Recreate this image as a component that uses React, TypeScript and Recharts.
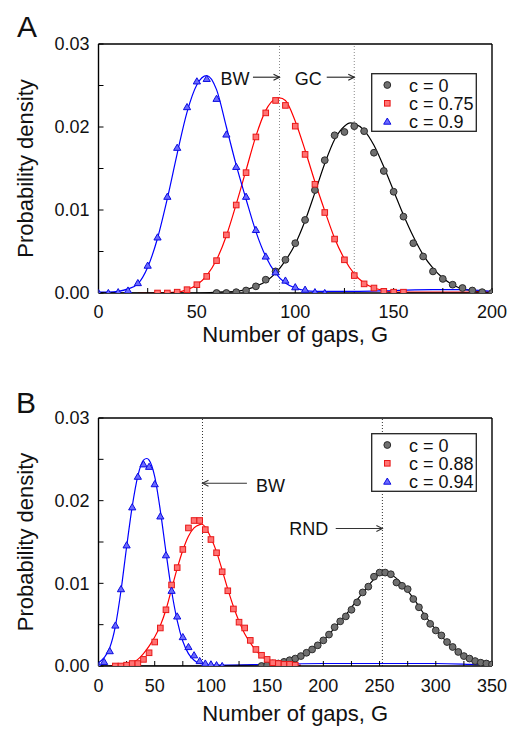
import React from 'react';
import { ComposedChart, Scatter, Line, XAxis, YAxis, ReferenceLine, Legend } from 'recharts';

const FONT = '"Liberation Sans", Arial, Helvetica, sans-serif';

// ---------- Panel A data ----------
const aXTicks = [0, 25, 50, 75, 100, 125, 150, 175, 200];
const aYTicks = [0, 0.005, 0.01, 0.015, 0.02, 0.025, 0.03];
const aLegend = ['c = 0', 'c = 0.75', 'c = 0.9'];

const aBlackPtsG = [60, 65, 70, 75, 80, 85, 90, 95, 100, 105, 110, 115, 120, 125, 130, 135, 140, 145, 150, 155, 160, 165, 170, 175, 180, 185, 190, 195, 200];
const aBlackPtsD = [0, 0, 0.0001, 0.0003, 0.0008, 0.0016, 0.0026, 0.004, 0.006, 0.0088, 0.0124, 0.016, 0.019, 0.0194, 0.0201, 0.0195, 0.0169, 0.0147, 0.0122, 0.0092, 0.006, 0.0044, 0.0026, 0.0017, 0.001, 0.0006, 0.0003, 0.0001, 0];
const aRedPtsG = [30, 35, 40, 45, 50, 55, 60, 65, 70, 75, 80, 85, 90, 95, 100, 105, 110, 115, 120, 125, 130, 135, 140, 145, 150, 155];
const aRedPtsD = [0, 0, 0.0001, 0.0004, 0.001, 0.002, 0.0039, 0.007, 0.0106, 0.0145, 0.0188, 0.0217, 0.0232, 0.0226, 0.0201, 0.0167, 0.0131, 0.0097, 0.0065, 0.004, 0.0021, 0.0011, 0.0006, 0.0002, 0.0001, 0.0001];
const aBluePtsG = [0, 5, 10, 15, 20, 25, 30, 35, 40, 45, 50, 55, 60, 65, 70, 75, 80, 85, 90, 95, 100, 105, 110, 115];
const aBluePtsD = [0, 0, 0.0001, 0.0003, 0.0012, 0.0033, 0.0067, 0.0116, 0.0175, 0.0224, 0.0255, 0.0258, 0.0234, 0.0191, 0.0152, 0.0116, 0.0076, 0.0044, 0.0025, 0.0015, 0.0007, 0.0004, 0.0001, 0];

const aBlackFitG = [0, 50, 60, 70, 75, 80, 85, 90, 95, 100, 105, 110, 115, 120, 125, 128, 130, 135, 140, 145, 150, 155, 160, 165, 170, 175, 180, 185, 190, 195, 200];
const aBlackFitD = [0, 0, 0.0001, 0.0002, 0.0004, 0.0008, 0.0014, 0.0024, 0.0039, 0.0059, 0.0087, 0.0121, 0.0156, 0.0185, 0.0201, 0.0205, 0.0204, 0.0196, 0.0178, 0.0152, 0.0123, 0.0094, 0.0068, 0.0046, 0.003, 0.0018, 0.001, 0.0005, 0.0003, 0.0001, 0.0001];
const aRedFitG = [20, 30, 40, 45, 50, 55, 60, 65, 70, 75, 80, 85, 90, 92, 95, 100, 105, 110, 115, 120, 125, 130, 135, 140, 145, 150, 160, 180, 200];
const aRedFitD = [0, 0, 0.0001, 0.0004, 0.001, 0.0021, 0.004, 0.0069, 0.0107, 0.0148, 0.0189, 0.022, 0.0234, 0.0235, 0.0232, 0.0207, 0.0172, 0.0134, 0.0099, 0.0066, 0.0041, 0.0023, 0.0012, 0.0006, 0.0003, 0.0001, 0.0001, 0.0001, 0.0001];
const aBlueFitG = [0, 5, 10, 15, 20, 25, 30, 35, 40, 45, 50, 55, 60, 65, 70, 75, 80, 85, 90, 95, 100, 105, 110, 130, 150, 170, 185, 200];
const aBlueFitD = [0.0001, 0.0001, 0.0002, 0.0005, 0.0011, 0.0031, 0.0066, 0.0114, 0.0168, 0.0218, 0.0251, 0.0262, 0.0245, 0.02, 0.0154, 0.0113, 0.0074, 0.0044, 0.0024, 0.0012, 0.0006, 0.0003, 0.0002, 0.0002, 0.0003, 0.0004, 0.0004, 0.0002];

// ---------- Panel B data ----------
const bXTicks = [0, 25, 50, 75, 100, 125, 150, 175, 200, 225, 250, 275, 300, 325, 350];
const bYTicks = [0, 0.005, 0.01, 0.015, 0.02, 0.025, 0.03];
const bLegend = ['c = 0', 'c = 0.88', 'c = 0.94'];

const bBlackPtsG = [145, 150, 155, 160, 165, 170, 175, 180, 185, 190, 195, 200, 205, 210, 215, 220, 225, 230, 235, 240, 245, 250, 255, 260, 265, 270, 275, 280, 285, 290, 295, 300, 305, 310, 315, 320, 325, 330, 335, 340, 345, 350];
const bBlackPtsD = [0, 0.0001, 0.0003, 0.0003, 0.0005, 0.0007, 0.0009, 0.0012, 0.0016, 0.002, 0.0025, 0.0031, 0.0038, 0.0047, 0.0054, 0.006, 0.0068, 0.0077, 0.0089, 0.0096, 0.0108, 0.0113, 0.0113, 0.0111, 0.0101, 0.0097, 0.0093, 0.0081, 0.0071, 0.006, 0.0051, 0.0043, 0.0037, 0.0029, 0.0023, 0.0017, 0.0012, 0.0009, 0.0006, 0.0004, 0.0003, 0.0002];
const bRedPtsG = [15, 20, 25, 30, 35, 40, 45, 50, 55, 60, 65, 70, 75, 80, 85, 90, 95, 100, 105, 110, 115, 120, 125, 130, 135, 140, 145, 150, 155, 160, 165, 170, 175];
const bRedPtsD = [0, 0, 0.0001, 0.0003, 0.0003, 0.0008, 0.0016, 0.0029, 0.0046, 0.0068, 0.0098, 0.0119, 0.0141, 0.0167, 0.0176, 0.0176, 0.0165, 0.0153, 0.0137, 0.0114, 0.0091, 0.0069, 0.0053, 0.0046, 0.0031, 0.002, 0.0013, 0.0008, 0.0004, 0.0003, 0.0002, 0.0002, 0.0001];
const bBluePtsG = [0, 5, 10, 15, 20, 25, 30, 35, 40, 45, 50, 55, 60, 65, 70, 75, 80, 85, 90, 95, 100, 105, 110];
const bBluePtsD = [0, 0.0005, 0.0018, 0.0049, 0.0093, 0.0146, 0.0192, 0.0229, 0.0244, 0.0241, 0.022, 0.0181, 0.0134, 0.0091, 0.006, 0.0035, 0.0023, 0.0013, 0.0006, 0.0003, 0.0002, 0.0001, 0];

const bBlackFitG = [0, 100, 130, 145, 160, 170, 180, 190, 200, 210, 220, 230, 240, 245, 250, 253, 255, 260, 265, 270, 280, 290, 300, 310, 320, 330, 340, 350];
const bBlackFitD = [0, 0, 0.0001, 0.0002, 0.0004, 0.0007, 0.0012, 0.002, 0.0031, 0.0046, 0.0062, 0.008, 0.0097, 0.0105, 0.0111, 0.01135, 0.0113, 0.0111, 0.0106, 0.0099, 0.0082, 0.0062, 0.0044, 0.0029, 0.0018, 0.001, 0.0005, 0.0002];
const bRedFitG = [10, 20, 25, 30, 35, 40, 45, 50, 55, 60, 65, 70, 75, 80, 85, 90, 92, 95, 100, 105, 110, 115, 120, 125, 130, 135, 140, 145, 150, 155, 160, 170, 180];
const bRedFitD = [0, 0.0001, 0.0002, 0.0004, 0.0008, 0.0015, 0.0024, 0.0035, 0.0049, 0.0068, 0.0093, 0.0118, 0.014, 0.0157, 0.0167, 0.0171, 0.01715, 0.0168, 0.0155, 0.0138, 0.0116, 0.0093, 0.0072, 0.0054, 0.0039, 0.0028, 0.0019, 0.0012, 0.0008, 0.0005, 0.0003, 0.0001, 0.0001];
const bBlueFitG = [0, 5, 10, 15, 20, 25, 30, 35, 40, 43, 45, 50, 55, 60, 65, 70, 75, 80, 85, 90, 95, 100, 120, 150, 200, 250, 300, 330, 350];
const bBlueFitD = [0.0004, 0.001, 0.0022, 0.0048, 0.0091, 0.0144, 0.0193, 0.023, 0.0249, 0.0251, 0.0249, 0.0229, 0.0188, 0.0138, 0.0091, 0.0055, 0.003, 0.0015, 0.0007, 0.0003, 0.0002, 0.0001, 0.0001, 0.0002, 0.0003, 0.0003, 0.0003, 0.0002, 0.0001];

const toPts = (g: number[], d: number[]) => g.map((G, i) => ({ G, d: d[i] }));

// ---------- marks ----------
const CircleMark = (p: any) => <circle cx={p.cx} cy={p.cy} r={3.4} fill="#707070" stroke="#2c2c2c" strokeWidth={1} />;
const SquareMark = (p: any) => <rect x={p.cx - 2.8} y={p.cy - 2.8} width={5.6} height={5.6} fill="#ff7373" stroke="#e81818" strokeWidth={1} />;
const TriMark = (p: any) => (
  <path d={`M${p.cx},${p.cy - 3.6}L${p.cx + 3.6},${p.cy + 2.6}L${p.cx - 3.6},${p.cy + 2.6}Z`} fill="#6a6aff" stroke="#0c0ce0" strokeWidth={1} />
);

const arrowShape = (text: string, textSide: 'left' | 'right', head: 'left' | 'right', gap: number, dy: number, color: string) => (p: any) => {
  const left = Math.min(p.x1, p.x2);
  const right = Math.max(p.x1, p.x2);
  const y = p.y1;
  const hx = head === 'right' ? right : left;
  const s = head === 'right' ? -1 : 1;
  return (
    <g>
      <line x1={left} y1={y} x2={right} y2={y} stroke={color} strokeWidth={1.1} />
      <path d={`M${hx + s * 6},${y - 3}L${hx},${y}L${hx + s * 6},${y + 3}`} fill="none" stroke={color} strokeWidth={1.1} />
      <text
        x={textSide === 'left' ? left - gap : right + gap}
        y={y + dy}
        textAnchor={textSide === 'left' ? 'end' : 'start'}
        fontSize={18}
        fontFamily={FONT}
        fill="#111"
      >
        {text}
      </text>
    </g>
  );
};

const LegendBox = ({ labels }: { labels: string[] }) => {
  const marks = [CircleMark, SquareMark, TriMark];
  return (
    <svg width={106} height={59} style={{ display: 'block' }}>
      <rect x={0.7} y={0.7} width={104.6} height={57.6} fill="#fff" stroke="#222" strokeWidth={1.3} />
      {labels.map((lab, i) => {
        const M = marks[i];
        const cy = 12 + i * 18.3;
        return (
          <g key={lab}>
            <M cx={16.3} cy={cy} />
            <text x={38} y={cy + 6.6} fontSize={18} fontFamily={FONT} fill="#111">
              {lab}
            </text>
          </g>
        );
      })}
    </svg>
  );
};

const yFmt = (v: number) => (Math.round(v * 1000) % 10 === 0 ? v.toFixed(2) : '');
const xFmt = (v: number) => (v % 50 === 0 ? String(v) : '');

const tickStyle = { fontSize: 18, fontFamily: FONT, fill: '#111' };

type PanelProps = {
  height: number;
  marginTop: number;
  marginBottom: number;
  xMax: number;
  xTicks: number[];
  yTicks: number[];
  xTickMargin: number;
  xTitleOffset: number;
  black: { G: number; d: number }[];
  red: { G: number; d: number }[];
  blue: { G: number; d: number }[];
  blackFit: { G: number; d: number }[];
  redFit: { G: number; d: number }[];
  blueFit: { G: number; d: number }[];
  vlines: number[];
  vlineColor: string;
  arrows: { x1: number; x2: number; y: number; shape: (p: any) => any }[];
  legend: string[];
  legendTop: number;
};

const Panel = (P: PanelProps) => (
  <ComposedChart
    width={515}
    height={P.height}
    margin={{ top: P.marginTop, right: 18, bottom: P.marginBottom, left: 38.5 }}
  >
    <XAxis
      xAxisId="b"
      type="number"
      dataKey="G"
      domain={[0, P.xMax]}
      ticks={P.xTicks}
      interval={0}
      allowDataOverflow
      height={30}
      tickSize={-5}
      tickMargin={P.xTickMargin}
      tickFormatter={xFmt}
      tick={tickStyle}
      axisLine={{ stroke: '#000', strokeWidth: 1.4 }}
      tickLine={{ stroke: '#000', strokeWidth: 1 }}
      label={{
        value: 'Number of gaps, G',
        position: 'bottom',
        offset: P.xTitleOffset,
        style: { fontSize: 22, fontFamily: FONT, fill: '#111', textAnchor: 'middle' },
      }}
    />
    <XAxis
      xAxisId="t"
      orientation="top"
      type="number"
      dataKey="G"
      domain={[0, P.xMax]}
      ticks={P.xTicks}
      interval={0}
      allowDataOverflow
      height={5}
      tickSize={-5}
      tick={false}
      axisLine={{ stroke: '#000', strokeWidth: 1.4 }}
      tickLine={{ stroke: '#000', strokeWidth: 1 }}
    />
    <YAxis
      yAxisId="l"
      type="number"
      dataKey="d"
      domain={[0, 0.03]}
      ticks={P.yTicks}
      interval={0}
      allowDataOverflow
      width={60}
      tickSize={-5}
      tickMargin={14}
      tickFormatter={yFmt}
      tick={tickStyle}
      axisLine={{ stroke: '#000', strokeWidth: 1.4 }}
      tickLine={{ stroke: '#000', strokeWidth: 1 }}
      label={{
        value: 'Probability density',
        angle: -90,
        position: 'left',
        offset: 13.5,
        style: { fontSize: 22, fontFamily: FONT, fill: '#111', textAnchor: 'middle' },
      }}
    />
    <YAxis
      yAxisId="r"
      orientation="right"
      type="number"
      domain={[0, 0.03]}
      ticks={P.yTicks}
      interval={0}
      allowDataOverflow
      width={5}
      tickSize={-5}
      tick={false}
      axisLine={{ stroke: '#000', strokeWidth: 1.4 }}
      tickLine={{ stroke: '#000', strokeWidth: 1 }}
    />
    {P.vlines.map((v) => (
      <ReferenceLine key={v} x={v} xAxisId="b" yAxisId="l" stroke={P.vlineColor} strokeWidth={1} strokeDasharray="1 2" />
    ))}
    {P.arrows.map((a, i) => (
      <ReferenceLine
        key={'arr' + i}
        xAxisId="b"
        yAxisId="l"
        segment={[
          { x: a.x1, y: a.y },
          { x: a.x2, y: a.y },
        ]}
        shape={a.shape}
      />
    ))}
    <Scatter xAxisId="b" yAxisId="l" data={P.black} dataKey="d" shape={CircleMark} isAnimationActive={false} name="c0" />
    <Scatter xAxisId="b" yAxisId="l" data={P.red} dataKey="d" shape={SquareMark} isAnimationActive={false} name="c1" />
    <Scatter xAxisId="b" yAxisId="l" data={P.blue} dataKey="d" shape={TriMark} isAnimationActive={false} name="c2" />
    <Line xAxisId="b" yAxisId="l" data={P.blackFit} dataKey="d" type="monotone" stroke="#000" strokeWidth={1.2} dot={false} activeDot={false} isAnimationActive={false} legendType="none" />
    <Line xAxisId="b" yAxisId="l" data={P.redFit} dataKey="d" type="monotone" stroke="#ff0000" strokeWidth={1.2} dot={false} activeDot={false} isAnimationActive={false} legendType="none" />
    <Line xAxisId="b" yAxisId="l" data={P.blueFit} dataKey="d" type="monotone" stroke="#0000ff" strokeWidth={1.2} dot={false} activeDot={false} isAnimationActive={false} legendType="none" />
    <Legend
      layout="horizontal"
      verticalAlign="middle"
      align="center"
      wrapperStyle={{ left: 371, top: P.legendTop, width: 106, height: 59 }}
      content={() => <LegendBox labels={P.legend} />}
    />
  </ComposedChart>
);

export default function App() {
  const aY = 0.026;
  return (
    <div style={{ position: 'absolute', left: 0, top: 0, width: 515, height: 729, background: '#fff', fontFamily: FONT }}>
      <div style={{ position: 'absolute', left: 0, top: 0 }}>
        <Panel
          height={370}
          marginTop={39}
          marginBottom={47}
          xMax={200}
          xTicks={aXTicks}
          yTicks={aYTicks}
          xTickMargin={17}
          xTitleOffset={3}
          black={toPts(aBlackPtsG, aBlackPtsD)}
          red={toPts(aRedPtsG, aRedPtsD)}
          blue={toPts(aBluePtsG, aBluePtsD)}
          blackFit={toPts(aBlackFitG, aBlackFitD)}
          redFit={toPts(aRedFitG, aRedFitD)}
          blueFit={toPts(aBlueFitG, aBlueFitD)}
          vlines={[92, 130]}
          vlineColor="#8a8a8a"
          arrows={[
            { x1: 78.5, x2: 92, y: aY, shape: arrowShape('BW', 'left', 'right', 3.5, 8, '#222') },
            { x1: 116, x2: 130, y: aY, shape: arrowShape('GC', 'left', 'right', 5, 8, '#222') },
          ]}
          legend={aLegend}
          legendTop={73}
        />
      </div>
      <div style={{ position: 'absolute', left: 0, top: 370 }}>
        <Panel
          height={359}
          marginTop={43}
          marginBottom={33}
          xMax={350}
          xTicks={bXTicks}
          yTicks={bYTicks}
          xTickMargin={18.5}
          xTitleOffset={9}
          black={toPts(bBlackPtsG, bBlackPtsD)}
          red={toPts(bRedPtsG, bRedPtsD)}
          blue={toPts(bBluePtsG, bBluePtsD)}
          blackFit={toPts(bBlackFitG, bBlackFitD)}
          redFit={toPts(bRedFitG, bRedFitD)}
          blueFit={toPts(bBlueFitG, bBlueFitD)}
          vlines={[92.5, 252.5]}
          vlineColor="#333"
          arrows={[
            { x1: 92.5, x2: 132, y: 0.0221, shape: arrowShape('BW', 'right', 'left', 9, 8.4, '#333') },
            { x1: 211, x2: 252.5, y: 0.01664, shape: arrowShape('RND', 'left', 'right', 7.4, 6.7, '#333') },
          ]}
          legend={bLegend}
          legendTop={63}
        />
      </div>
      <div style={{ position: 'absolute', left: 17, top: 11.6, fontSize: 30, lineHeight: '30px', fontFamily: FONT, color: '#111' }}>A</div>
      <div style={{ position: 'absolute', left: 16, top: 387.6, fontSize: 30, lineHeight: '30px', fontFamily: FONT, color: '#111' }}>B</div>
    </div>
  );
}
